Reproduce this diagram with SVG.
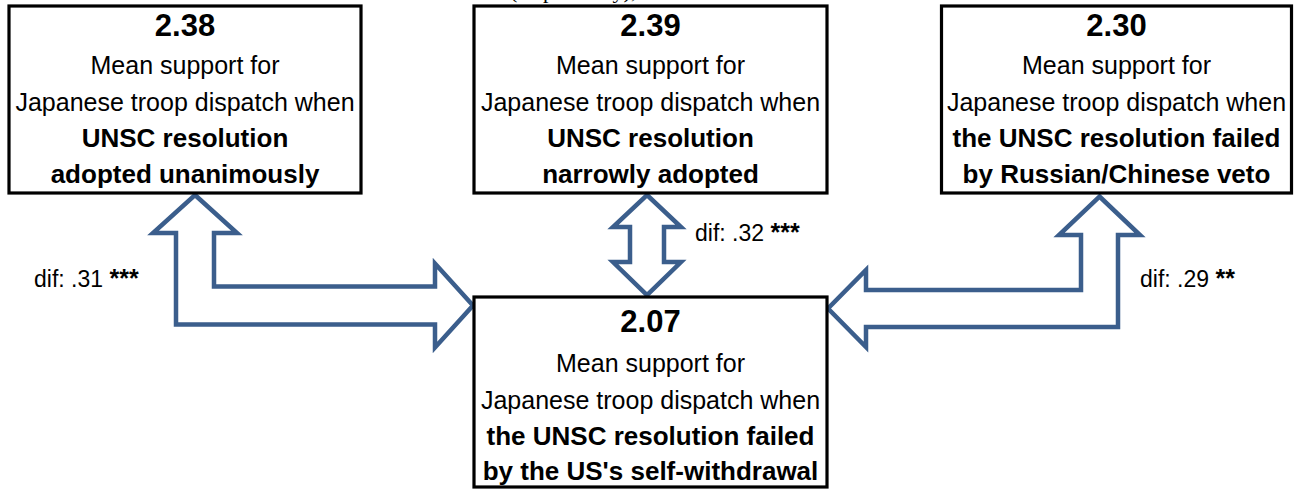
<svg xmlns="http://www.w3.org/2000/svg" width="1294" height="489" viewBox="0 0 1294 489">
<style>
.box{fill:#ffffff;stroke:#000000;stroke-width:3.2}
.arr{fill:#ffffff;stroke:#3B5E8C;stroke-width:4.5;stroke-linejoin:miter}
.t{font-family:"Liberation Sans",Arial,sans-serif;fill:#000000;text-anchor:middle}
.num{font-size:31px;font-weight:bold}
.reg{font-size:25px}
.bld{font-size:26px;font-weight:bold}
.dif{font-family:"Liberation Sans",Arial,sans-serif;font-size:23px;fill:#000000}
.st{font-weight:bold;font-size:25px}
.cap{font-family:"Liberation Serif","Times New Roman",serif;font-size:22px;fill:#000000}
</style>
<rect width="1294" height="489" fill="#ffffff"/>
<text class="cap" x="510" y="-2">(respectively),</text>
<g id="connectors">
<polygon class="arr" points="195,195 237,233 214,233 214,286.5 435,286.5 435,263.5 473,305.5 435,347.5 435,324.5 176,324.5 176,233 153,233"/>
<polygon class="arr" points="647,195 681,227 664,227 664,262 681,262 647,295 613,262 630,262 630,227 613,227"/>
<polygon class="arr" points="1099.5,196.5 1140,235 1118,235 1118,327 866,327 866,347 828,308.5 866,270 866,290 1081,290 1081,235 1059,235"/>
<text class="dif" x="34" y="287"><tspan>dif: .31 </tspan><tspan class="st">***</tspan></text>
<text class="dif" x="695" y="241"><tspan>dif: .32 </tspan><tspan class="st">***</tspan></text>
<text class="dif" x="1140" y="287"><tspan>dif: .29 </tspan><tspan class="st">**</tspan></text>
</g>
<g id="node-unanimous">
<rect class="box" x="9" y="6" width="352" height="187"/>
<text class="t num" x="185" y="36">2.38</text>
<text class="t reg" x="185" y="74">Mean support for</text>
<text class="t reg" x="185" y="110.5">Japanese troop dispatch when</text>
<text class="t bld" x="185" y="147">UNSC resolution</text>
<text class="t bld" x="185" y="183">adopted unanimously</text>
</g>
<g id="node-narrow">
<rect class="box" x="474" y="6" width="353" height="187"/>
<text class="t num" x="650.5" y="36">2.39</text>
<text class="t reg" x="650.5" y="74">Mean support for</text>
<text class="t reg" x="650.5" y="110.5">Japanese troop dispatch when</text>
<text class="t bld" x="650.5" y="147">UNSC resolution</text>
<text class="t bld" x="650.5" y="183">narrowly adopted</text>
</g>
<g id="node-veto">
<rect class="box" x="941.5" y="6" width="350" height="187"/>
<text class="t num" x="1116.5" y="36">2.30</text>
<text class="t reg" x="1116.5" y="74">Mean support for</text>
<text class="t reg" x="1116.5" y="110.5">Japanese troop dispatch when</text>
<text class="t bld" x="1116.5" y="147">the UNSC resolution failed</text>
<text class="t bld" x="1116.5" y="183">by Russian/Chinese veto</text>
</g>
<g id="node-withdrawal">
<rect class="box" x="474" y="297" width="353" height="190"/>
<text class="t num" x="650.5" y="332">2.07</text>
<text class="t reg" x="650.5" y="372">Mean support for</text>
<text class="t reg" x="650.5" y="408.5">Japanese troop dispatch when</text>
<text class="t bld" x="650.5" y="445">the UNSC resolution failed</text>
<text class="t bld" x="650.5" y="479.5">by the US's self-withdrawal</text>
</g>
</svg>
